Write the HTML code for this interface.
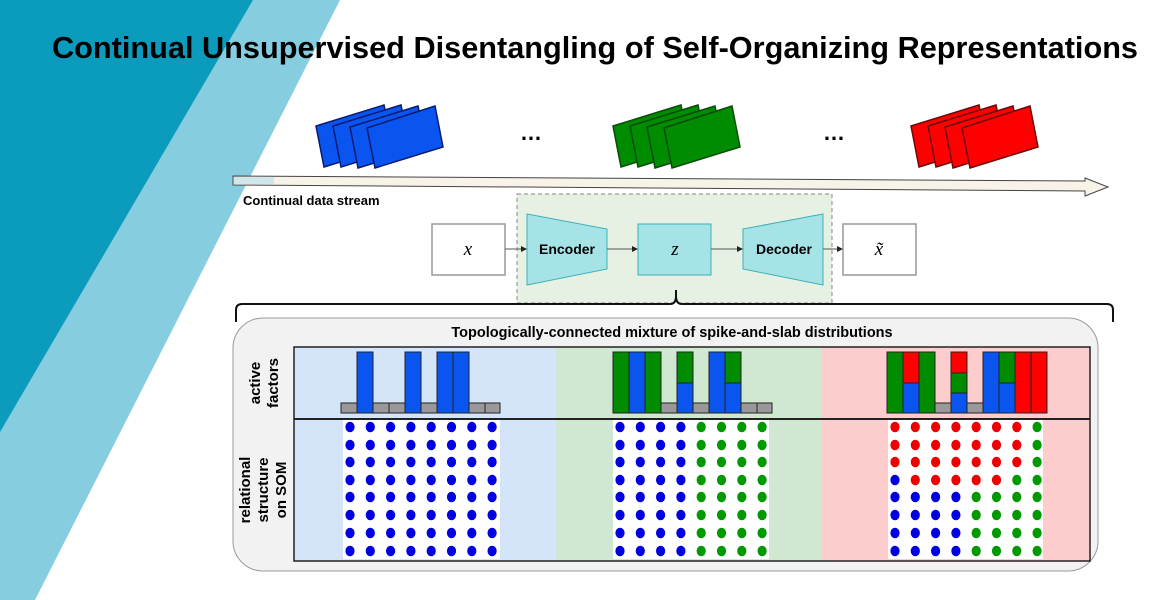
<!DOCTYPE html>
<html><head><meta charset="utf-8"><style>
html,body{margin:0;padding:0;background:#fff;}
svg{display:block;}
text{font-family:"Liberation Sans",Arial,sans-serif;}
text.m{font-family:"Liberation Serif","DejaVu Serif",serif;font-style:italic;}
</style></head><body>
<svg width="1150" height="600" viewBox="0 0 1150 600" xmlns="http://www.w3.org/2000/svg">
<polygon points="0,0 340,0 35,600 0,600" fill="#86cde0"/>
<polygon points="0,0 253,0 0,432" fill="#0a9bbd"/>
<text x="595" y="58" font-size="31" font-weight="bold" text-anchor="middle" textLength="1086" lengthAdjust="spacingAndGlyphs">Continual Unsupervised Disentangling of Self-Organizing Representations</text>

<polygon points="233,176 1085,181 1085,178 1108,187 1085,196 1085,191 233,185" fill="#f7f3e8" stroke="#444" stroke-width="1"/>
<rect x="234" y="177" width="40" height="7" fill="#cfe6ea"/>
<text x="243" y="205" font-size="13" font-weight="bold">Continual data stream</text>

<g fill="#0a55f0" stroke="#0a1a6e" stroke-width="1.5">
<polygon points="316,126 384,105 392,146 324,167"/>
<polygon points="333,126 401,105 409,146 341,167"/>
<polygon points="350,127 418,106 426,147 358,168"/>
<polygon points="367,128 435,106 443,147 375,168"/>
</g>
<g fill="#008c00" stroke="#0a4a0a" stroke-width="1.5">
<polygon points="613,126 681,105 689,146 621,167"/>
<polygon points="630,126 698,105 706,146 638,167"/>
<polygon points="647,127 715,106 723,147 655,168"/>
<polygon points="664,128 732,106 740,147 672,168"/>
</g>
<g fill="#ff0000" stroke="#6a0a0a" stroke-width="1.5">
<polygon points="911,126 979,105 987,146 919,167"/>
<polygon points="928,126 996,105 1004,146 936,167"/>
<polygon points="945,127 1013,106 1021,147 953,168"/>
<polygon points="962,128 1030,106 1038,147 970,168"/>
</g>
<text x="531" y="140" font-size="22" font-weight="bold" text-anchor="middle">…</text>
<text x="834" y="140" font-size="22" font-weight="bold" text-anchor="middle">…</text>

<rect x="517" y="194" width="315" height="109" fill="#e6f1e4" stroke="#888" stroke-dasharray="4,3"/>
<rect x="432" y="224" width="73" height="51" fill="#fff" stroke="#999" stroke-width="1.5"/>
<text class="m" x="468" y="255" font-size="19" text-anchor="middle">x</text>
<polygon points="527,214 607,229 607,269 527,285" fill="#a6e3e6" stroke="#3fb0b8"/>
<text x="567" y="254" font-size="14" font-weight="bold" text-anchor="middle">Encoder</text>
<rect x="638" y="224" width="73" height="51" fill="#a6e3e6" stroke="#3fb0b8"/>
<text class="m" x="675" y="255" font-size="19" text-anchor="middle">z</text>
<polygon points="743,229 823,214 823,285 743,269" fill="#a6e3e6" stroke="#3fb0b8"/>
<text x="784" y="254" font-size="14" font-weight="bold" text-anchor="middle">Decoder</text>
<rect x="843" y="224" width="73" height="51" fill="#fff" stroke="#999" stroke-width="1.5"/>
<text class="m" x="879" y="255" font-size="19" text-anchor="middle">x̃</text>
<g stroke="#555" stroke-width="1" fill="#222">
<line x1="505" y1="249" x2="523" y2="249"/><polygon points="527,249 521,246 521,252" stroke="none"/>
<line x1="607" y1="249" x2="634" y2="249"/><polygon points="638,249 632,246 632,252" stroke="none"/>
<line x1="711" y1="249" x2="739" y2="249"/><polygon points="743,249 737,246 737,252" stroke="none"/>
<line x1="823" y1="249" x2="839" y2="249"/><polygon points="843,249 837,246 837,252" stroke="none"/>
</g>

<path d="M236,322 L236,310 Q236,304 242,304 L670,304 Q676,304 676,296 L676,290 M676,296 Q676,304 682,304 L1107,304 Q1113,304 1113,310 L1113,322" fill="none" stroke="#111" stroke-width="2"/>

<rect x="233" y="318" width="865" height="253" rx="30" fill="#f2f2f2" stroke="#999"/>
<text x="672" y="337" font-size="14.5" font-weight="bold" text-anchor="middle">Topologically-connected mixture of spike-and-slab distributions</text>
<rect x="294" y="347" width="262" height="214" fill="#d4e5f9"/>
<rect x="556" y="347" width="266" height="214" fill="#d0e8d2"/>
<rect x="822" y="347" width="268" height="214" fill="#fdcdcd"/>
<rect x="294" y="347" width="796" height="214" fill="none" stroke="#222" stroke-width="1.5"/>
<line x1="294" y1="419" x2="1090" y2="419" stroke="#222" stroke-width="2"/>
<text transform="translate(263,383) rotate(-90)" font-size="15" font-weight="bold" text-anchor="middle"><tspan x="0" y="-3">active</tspan><tspan x="0" y="15">factors</tspan></text>
<text transform="translate(263,490) rotate(-90)" font-size="15" font-weight="bold" text-anchor="middle"><tspan x="0" y="-13">relational</tspan><tspan x="0" y="5">structure</tspan><tspan x="0" y="23">on SOM</tspan></text>

<g stroke="#222" stroke-width="1">
<rect x="341" y="403" width="16" height="10" fill="#999"/>
<rect x="357" y="352" width="16" height="61" fill="#0a55f0"/>
<rect x="373" y="403" width="16" height="10" fill="#999"/>
<rect x="389" y="403" width="16" height="10" fill="#999"/>
<rect x="405" y="352" width="16" height="61" fill="#0a55f0"/>
<rect x="421" y="403" width="16" height="10" fill="#999"/>
<rect x="437" y="352" width="16" height="61" fill="#0a55f0"/>
<rect x="453" y="352" width="16" height="61" fill="#0a55f0"/>
<rect x="469" y="403" width="16" height="10" fill="#999"/>
<rect x="485" y="403" width="15" height="10" fill="#999"/>
<rect x="613" y="352" width="16" height="61" fill="#008c00"/>
<rect x="629" y="352" width="16" height="61" fill="#0a55f0"/>
<rect x="645" y="352" width="16" height="61" fill="#008c00"/>
<rect x="661" y="403" width="16" height="10" fill="#999"/>
<rect x="677" y="352" width="16" height="31" fill="#008c00"/>
<rect x="677" y="383" width="16" height="30" fill="#0a55f0"/>
<rect x="693" y="403" width="16" height="10" fill="#999"/>
<rect x="709" y="352" width="16" height="61" fill="#0a55f0"/>
<rect x="725" y="352" width="16" height="31" fill="#008c00"/>
<rect x="725" y="383" width="16" height="30" fill="#0a55f0"/>
<rect x="741" y="403" width="16" height="10" fill="#999"/>
<rect x="757" y="403" width="15" height="10" fill="#999"/>
<rect x="887" y="352" width="16" height="61" fill="#008c00"/>
<rect x="903" y="352" width="16" height="31" fill="#ff0000"/>
<rect x="903" y="383" width="16" height="30" fill="#0a55f0"/>
<rect x="919" y="352" width="16" height="61" fill="#008c00"/>
<rect x="935" y="403" width="16" height="10" fill="#999"/>
<rect x="951" y="352" width="16" height="21" fill="#ff0000"/>
<rect x="951" y="373" width="16" height="20" fill="#008c00"/>
<rect x="951" y="393" width="16" height="20" fill="#0a55f0"/>
<rect x="967" y="403" width="16" height="10" fill="#999"/>
<rect x="983" y="352" width="16" height="61" fill="#0a55f0"/>
<rect x="999" y="352" width="16" height="31" fill="#008c00"/>
<rect x="999" y="383" width="16" height="30" fill="#0a55f0"/>
<rect x="1015" y="352" width="16" height="61" fill="#ff0000"/>
<rect x="1031" y="352" width="16" height="61" fill="#ff0000"/>
</g>

<rect x="343" y="420" width="157" height="139" fill="#fff"/>
<rect x="613" y="420" width="156" height="139" fill="#fff"/>
<rect x="888" y="420" width="155" height="139" fill="#fff"/>
<g id="dots"></g>
</svg>
<script>
(function(){
var g=document.getElementById('dots'),ns='http://www.w3.org/2000/svg';
var B='#0000e0',G='#009a00',R='#ee0000';
var rows=[427,445,462,480,497,515,533,551];
function grid(x0,f){for(var r=0;r<8;r++)for(var c=0;c<8;c++){var e=document.createElementNS(ns,'ellipse');e.setAttribute('cx',x0+c*20.3);e.setAttribute('cy',rows[r]);e.setAttribute('rx',4.6);e.setAttribute('ry',5.3);e.setAttribute('fill',f(r,c));g.appendChild(e);}}
grid(350,function(){return B;});
grid(620,function(r,c){return c<4?B:G;});
grid(895,function(r,c){
 if(r<3) return c<7?R:G;
 if(r==3) return c==0?B:(c<6?R:G);
 return c<4?B:G;});
})();
</script>
</body></html>
